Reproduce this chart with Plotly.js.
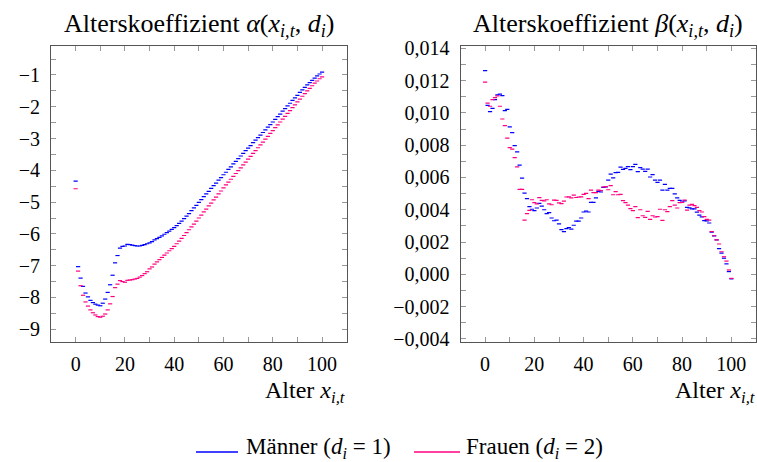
<!DOCTYPE html>
<html>
<head>
<meta charset="utf-8">
<script src="https://cdn.plot.ly/plotly-3.0.1.min.js"></script>
<style>html,body{margin:0;padding:0;background:#fff;}#chart{width:757px;height:462px;}</style>
</head>
<body>
<div id="chart"></div>
<script>
// Age categories
const ages = [0,1,2,3,4,5,6,7,8,9,10,11,12,13,14,15,16,17,18,19,20,21,22,23,24,25,26,27,28,29,30,
31,32,33,34,35,36,37,38,39,40,41,42,43,44,45,46,47,48,49,50,51,52,53,54,55,56,57,58,59,60,
61,62,63,64,65,66,67,68,69,70,71,72,73,74,75,76,77,78,79,80,81,82,83,84,85,86,87,88,89,90,
91,92,93,94,95,96,97,98,99,100];

// Alterskoeffizient alpha — Männer (d_i = 1)
const alphaMaenner = [-4.34,-7.03,-7.39,-7.65,-7.86,-7.98,-8.09,-8.16,-8.21,-8.24,-8.26,-8.18,-8.05,-7.84,-7.60,-7.30,-6.91,-6.68,-6.45,-6.39,-6.38,
-6.33,-6.34,-6.35,-6.37,-6.38,-6.38,-6.36,-6.34,-6.31,-6.28,-6.24,-6.19,-6.15,-6.11,-6.06,-6.01,-5.96,-5.91,-5.86,-5.80,
-5.74,-5.67,-5.60,-5.52,-5.44,-5.36,-5.27,-5.18,-5.10,-5.01,-4.92,-4.83,-4.74,-4.66,-4.57,-4.48,-4.40,-4.31,-4.23,-4.14,
-4.06,-3.97,-3.89,-3.80,-3.72,-3.63,-3.55,-3.47,-3.38,-3.30,-3.22,-3.13,-3.05,-2.97,-2.89,-2.81,-2.73,-2.64,-2.56,-2.48,
-2.40,-2.31,-2.23,-2.14,-2.06,-1.97,-1.89,-1.80,-1.72,-1.64,-1.55,-1.47,-1.39,-1.31,-1.24,-1.17,-1.10,-1.03,-0.97,-0.91];

// Alterskoeffizient alpha — Frauen (d_i = 2)
const alphaFrauen = [-4.58,-7.17,-7.63,-7.93,-8.14,-8.27,-8.39,-8.48,-8.55,-8.60,-8.62,-8.59,-8.52,-8.39,-8.20,-7.97,-7.69,-7.58,-7.47,-7.50,-7.52,
-7.46,-7.45,-7.44,-7.42,-7.40,-7.36,-7.31,-7.25,-7.19,-7.10,-7.04,-6.95,-6.88,-6.81,-6.74,-6.67,-6.60,-6.53,-6.46,-6.39,
-6.31,-6.23,-6.14,-6.05,-5.96,-5.87,-5.78,-5.69,-5.60,-5.50,-5.41,-5.31,-5.22,-5.12,-5.03,-4.93,-4.84,-4.74,-4.65,-4.55,
-4.46,-4.37,-4.28,-4.19,-4.10,-4.01,-3.92,-3.83,-3.74,-3.65,-3.56,-3.47,-3.38,-3.29,-3.20,-3.11,-3.02,-2.93,-2.84,-2.75,
-2.66,-2.57,-2.48,-2.39,-2.30,-2.21,-2.12,-2.03,-1.94,-1.85,-1.76,-1.67,-1.59,-1.50,-1.42,-1.34,-1.26,-1.19,-1.12,-1.06];

// Alterskoeffizient beta — Männer (d_i = 1)
const betaMaenner = [0.01262,0.01047,0.01008,0.01028,0.01082,0.01111,0.01116,0.01107,0.01014,0.01022,0.00913,
0.00878,0.00797,0.00759,0.00677,0.00596,0.00503,0.00469,0.00419,0.00403,0.00394,
0.00411,0.00440,0.00423,0.00400,0.00376,0.00382,0.00349,0.00332,0.00336,0.00312,
0.00277,0.00264,0.00283,0.00289,0.00280,0.00304,0.00329,0.00330,0.00349,0.00386,
0.00392,0.00386,0.00446,0.00446,0.00473,0.00514,0.00510,0.00539,0.00541,0.00584,
0.00621,0.00597,0.00630,0.00632,0.00664,0.00650,0.00656,0.00667,0.00648,0.00667,
0.00681,0.00636,0.00661,0.00652,0.00638,0.00652,0.00603,0.00617,0.00584,0.00570,
0.00584,0.00522,0.00557,0.00522,0.00533,0.00533,0.00498,0.00473,0.00458,0.00448,
0.00455,0.00415,0.00412,0.00406,0.00406,0.00385,0.00367,0.00356,0.00333,0.00331,
0.00318,0.00262,0.00238,0.00213,0.00159,0.00132,0.00100,0.00065,0.00017,-0.00028];

// Alterskoeffizient beta — Frauen (d_i = 2)
const betaFrauen = [0.01191,0.01060,0.01041,0.01082,0.01094,0.01105,0.01041,0.00962,0.00921,0.00844,0.00785,
0.00776,0.00723,0.00665,0.00526,0.00526,0.00336,0.00376,0.00396,0.00462,0.00444,
0.00436,0.00475,0.00458,0.00455,0.00462,0.00436,0.00431,0.00460,0.00458,0.00442,
0.00438,0.00454,0.00479,0.00480,0.00474,0.00491,0.00476,0.00479,0.00480,0.00495,
0.00501,0.00469,0.00522,0.00506,0.00506,0.00522,0.00518,0.00541,0.00543,0.00524,
0.00549,0.00493,0.00512,0.00493,0.00495,0.00456,0.00444,0.00429,0.00407,0.00394,
0.00419,0.00351,0.00400,0.00363,0.00353,0.00390,0.00341,0.00363,0.00355,0.00357,
0.00403,0.00334,0.00400,0.00388,0.00419,0.00456,0.00429,0.00411,0.00444,0.00446,
0.00460,0.00398,0.00429,0.00433,0.00425,0.00415,0.00394,0.00386,0.00357,0.00340,
0.00336,0.00264,0.00239,0.00213,0.00188,0.00140,0.00109,0.00082,0.00027,-0.00025];

// Tick labels (major, labelled) and minor tick positions
const xTickVals = [0,20,40,60,80,100];
const xTickText = ['0','20','40','60','80','100'];
const xMinorVals = [10,30,50,70,90];
const alphaTickVals = [-9,-8,-7,-6,-5,-4,-3,-2,-1];
const alphaTickText = ['\u22129','\u22128','\u22127','\u22126','\u22125','\u22124','\u22123','\u22122','\u22121'];
const alphaMinorVals = [-8.5,-7.5,-6.5,-5.5,-4.5,-3.5,-2.5,-1.5,-0.5];
const betaTickVals = [-0.004,-0.002,0,0.002,0.004,0.006,0.008,0.010,0.012,0.014];
const betaTickText = ['\u22120,004','\u22120,002','0,000','0,002','0,004','0,006','0,008','0,010','0,012','0,014'];
const betaMinorVals = [-0.003,-0.001,0.001,0.003,0.005,0.007,0.009,0.011,0.013];

const BLUE = '#0000ff';
const PINK = '#ff0080';
const FONT = 'Liberation Serif';

function mk(y, color, xa, ya, name) {
  return {
    x: ages, y: y, xaxis: xa, yaxis: ya, name: name,
    type: 'scatter', mode: 'markers', showlegend: false, hoverinfo: 'skip',
    marker: {symbol: 'line-ew', size: 3, color: color, line: {color: color, width: 1.2}}
  };
}

const traces = [
  mk(alphaMaenner, BLUE, 'x', 'y', 'Männer'),
  mk(alphaFrauen, PINK, 'x', 'y', 'Frauen'),
  mk(betaMaenner, BLUE, 'x2', 'y2', 'Männer'),
  mk(betaFrauen, PINK, 'x2', 'y2', 'Frauen')
];

const W = 757, H = 462;
const px = v => v / W;
const py = v => 1 - v / H;

function axisBase(minorVals) {
  return {
    showline: true, mirror: 'allticks', linecolor: '#555', linewidth: 1,
    ticks: 'inside', ticklen: 5, tickwidth: 1, tickcolor: '#999',
    showgrid: false, zeroline: false, tickmode: 'array',
    minor: {tickmode: 'array', tickvals: minorVals, ticks: 'inside', ticklen: 5, tickwidth: 1, tickcolor: '#999', showgrid: false},
    tickfont: {family: FONT, size: 20, color: '#000'}
  };
}

const layout = {
  width: W, height: H,
  margin: {l: 0, r: 0, t: 0, b: 0},
  paper_bgcolor: '#fff', plot_bgcolor: '#fff',
  font: {family: FONT, size: 20, color: '#000'},
  showlegend: false,
  xaxis: Object.assign(axisBase(xMinorVals), {domain: [px(51), px(346.7)], range: [-10, 110], anchor: 'y',
    tickvals: xTickVals, ticktext: xTickText, ticklabelstandoff: 4}),
  yaxis: Object.assign(axisBase(alphaMinorVals), {domain: [py(342), py(45.7)], range: [-9.40, -0.08], anchor: 'x',
    tickvals: alphaTickVals, ticktext: alphaTickText, ticklabelstandoff: 6}),
  xaxis2: Object.assign(axisBase(xMinorVals), {domain: [px(460.5), px(756)], range: [-10, 110], anchor: 'y2',
    tickvals: xTickVals, ticktext: xTickText, ticklabelstandoff: 4}),
  yaxis2: Object.assign(axisBase(betaMinorVals), {domain: [py(342), py(45.7)], range: [-0.00419, 0.01416], anchor: 'x2',
    tickvals: betaTickVals, ticktext: betaTickText, ticklabelstandoff: 6}),
  annotations: [
    {xref: 'paper', yref: 'paper', x: px(199), y: py(25), xanchor: 'center', yanchor: 'middle', showarrow: false,
     text: 'Alterskoeffizient <i>α</i>(<i>x</i><sub><i>i,t</i></sub>, <i>d</i><sub><i>i</i></sub>)',
     font: {family: FONT, size: 26, color: '#000'}},
    {xref: 'paper', yref: 'paper', x: px(608), y: py(25), xanchor: 'center', yanchor: 'middle', showarrow: false,
     text: 'Alterskoeffizient <i>β</i>(<i>x</i><sub><i>i,t</i></sub>, <i>d</i><sub><i>i</i></sub>)',
     font: {family: FONT, size: 26, color: '#000'}},
    {xref: 'paper', yref: 'paper', x: px(347), y: py(392), xanchor: 'right', yanchor: 'middle', showarrow: false,
     text: 'Alter <i>x</i><sub><i>i,t</i></sub>', font: {family: FONT, size: 24, color: '#000'}},
    {xref: 'paper', yref: 'paper', x: px(757), y: py(392), xanchor: 'right', yanchor: 'middle', showarrow: false,
     text: 'Alter <i>x</i><sub><i>i,t</i></sub>', font: {family: FONT, size: 24, color: '#000'}},
    {xref: 'paper', yref: 'paper', x: px(244), y: py(448), xanchor: 'left', yanchor: 'middle', showarrow: false,
     text: 'Männer (<i>d</i><sub><i>i</i></sub> = 1)', font: {family: FONT, size: 23, color: '#000'}},
    {xref: 'paper', yref: 'paper', x: px(464), y: py(448), xanchor: 'left', yanchor: 'middle', showarrow: false,
     text: 'Frauen (<i>d</i><sub><i>i</i></sub> = 2)', font: {family: FONT, size: 23, color: '#000'}}
  ],
  shapes: [
    {type: 'line', xref: 'paper', yref: 'paper', x0: px(196), x1: px(238), y0: py(452), y1: py(452), line: {color: BLUE, width: 1.3}},
    {type: 'line', xref: 'paper', yref: 'paper', x0: px(414), x1: px(460), y0: py(452), y1: py(452), line: {color: PINK, width: 1.3}}
  ]
};

Plotly.newPlot('chart', traces, layout, {staticPlot: true, displayModeBar: false});
</script>
</body>
</html>
